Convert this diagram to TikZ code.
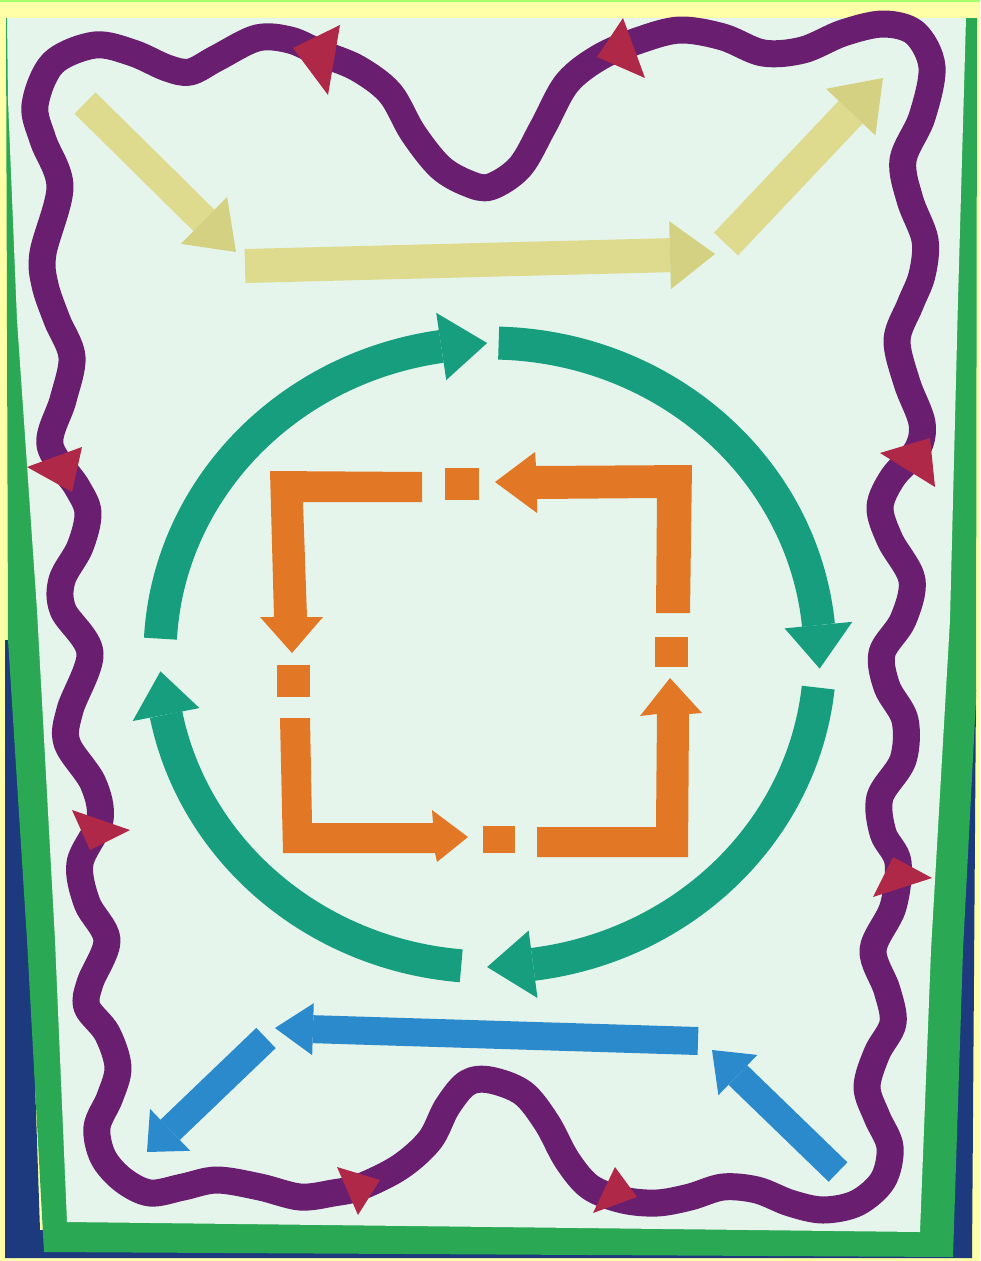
\documentclass[tikz,border=0pt]{standalone}
\usetikzlibrary{calc}
\definecolor{bgyellow}{RGB}{255,255,168}
\definecolor{navy}{RGB}{28,58,125}
\definecolor{framegreen}{RGB}{42,168,84}
\definecolor{paper}{RGB}{229,245,236}
\definecolor{purp}{RGB}{106,30,112}
\definecolor{redtri}{RGB}{176,40,72}
\definecolor{yshaft}{RGB}{222,218,142}
\definecolor{yhead}{RGB}{212,210,130}
\definecolor{tealc}{RGB}{22,158,126}
\definecolor{orng}{RGB}{226,120,38}
\definecolor{blu}{RGB}{42,138,204}
\tikzset{
  band/.style={draw=purp, line width=27pt, line join=round},
  tri/.style={fill=redtri},
  opiece/.style={fill=orng},
  garc/.style={draw=tealc, line width=33pt},
}
% straight arrow: shaft colour, head colour, start, tip, shaft width, head length, half head width
\newcommand{\flatarrow}[7]{%
  \coordinate (fab) at ($(#4)!#6!(#3)$);
  \draw[#1, line width=#5] (#3) -- (fab);
  \fill[#2] (#4) -- ($(fab)!#7!90:(#4)$) -- ($(fab)!#7!-90:(#4)$) -- cycle;
}
% arc arrow on the green ellipse: start angle, head-base angle, tip angle
\newcommand{\arcarrow}[3]{%
  \draw[garc] ($(gc)+(#1:330pt and 312pt)$) arc[start angle=#1, end angle=#2, x radius=330pt, y radius=312pt];
  \fill[tealc] ($(gc)+(#3:330pt and 312pt)$) -- ($(gc)+(#2:296pt and 278pt)$) -- ($(gc)+(#2:364pt and 346pt)$) -- cycle;
}
\begin{document}
\begin{tikzpicture}[x=1pt,y=-1pt]
\useasboundingbox (0,0) rectangle (980,1261);
% background
\fill[bgyellow] (0,0) rectangle (980,1261);
\fill[green!35!bgyellow] (0,0) rectangle (980,2);
% navy board behind
\fill[navy] (5,640) -- (5,1258) -- (972,1258) -- (976,690) -- (955,690) -- (935,1230) -- (40,1230) -- (20,640) -- cycle;
% green frame
\fill[framegreen] (6,18) -- (8,640) -- (27,940) -- (44,1252) -- (953,1257) -- (963,950) -- (976,700) -- (977,18) -- cycle;
% paper
\fill[paper] (7,18) -- (966,18) -- (958,300) -- (950,620) -- (931,950) -- (920,1232) -- (67,1222) -- (55,940) -- (37,610) -- (17,320) -- (8,100) -- cycle;

% purple wavy border
\draw[band] plot[smooth cycle, tension=0.55] coordinates {
 (35,105) (53,63) (95,45) (133,53) (167,68) (190,72) (217,58) (257,38) (290,40) (320,53) (357,68) (390,93) (413,133) (440,167) (467,183) (490,187)
 (520,167) (543,127) (567,83) (600,57) (640,40) (680,30) (723,37) (763,53) (803,50) (843,33) (883,24) (915,33) (932,67) (922,117) (903,160) (910,200) (925,240) (922,275) (910,305)
 (897,340) (907,383) (922,423) (917,450) (893,477) (880,507) (890,540) (912,580) (903,620) (882,653) (887,687) (905,720) (903,760) (880,797) (883,833) (898,862) (893,907) (873,950)
 (887,990) (893,1023) (877,1053) (867,1087) (877,1117) (890,1147) (883,1180) (857,1203) (823,1210) (790,1203) (757,1190) (723,1187) (690,1197) (657,1203) (623,1200) (590,1187)
 (567,1160) (547,1123) (523,1093) (490,1080) (467,1083) (447,1107) (430,1140) (400,1167) (360,1187) (333,1193) (300,1197) (260,1187) (217,1180) (183,1187) (150,1193) (123,1180)
 (103,1157) (97,1127) (110,1097) (118,1067) (107,1033) (87,1007) (90,983) (107,940) (87,903) (80,863) (100,820) (93,783) (67,743) (70,710) (90,653) (63,610) (62,580) (80,547)
 (88,513) (77,487) (50,445) (63,400) (72,357) (57,320) (45,285) (43,253) (60,187) (43,140)};

% red triangles
\fill[tri] (293,48) -- (340,25) -- (328,95) -- cycle;
\fill[tri] (597,57) -- (623,18) -- (645,78) -- cycle;
\fill[tri] (880,453) -- (930,438) -- (935,487) -- cycle;
\fill[tri] (873,897) -- (893,857) -- (932,878) -- cycle;
\fill[tri] (593,1213) -- (615,1167) -- (637,1197) -- cycle;
\fill[tri] (337,1167) -- (380,1180) -- (358,1215) -- cycle;
\fill[tri] (72,810) -- (130,830) -- (90,850) -- cycle;
\fill[tri] (27,467) -- (82,447) -- (72,492) -- cycle;

% yellow arrows
\coordinate (y1s) at (85,103);  \coordinate (y1t) at (236,252);
\coordinate (y2s) at (245,266); \coordinate (y2t) at (715,254);
\coordinate (y3s) at (726,244); \coordinate (y3t) at (883,78);
\flatarrow{yshaft}{yhead}{y1s}{y1t}{30pt}{45pt}{33pt}
\flatarrow{yshaft}{yhead}{y2s}{y2t}{34pt}{45pt}{34pt}
\flatarrow{yshaft}{yhead}{y3s}{y3t}{33pt}{47pt}{34pt}

% green cycle
\coordinate (gc) at (490,655);
\arcarrow{177}{98.5}{90.5}
\arcarrow{88.5}{5.5}{-2.5}
\arcarrow{-6}{-82.5}{-90.5}
\arcarrow{-95}{-169}{-177}

% orange square
\fill[opiece] (422,472) -- (270,471) -- (274,617) -- (260,617) -- (292,653) -- (323,617) -- (307,617) -- (303,502) -- (422,502) -- cycle;
\fill[opiece] (445,468) rectangle (479,500);
\fill[opiece] (495,482) -- (535,452) -- (536,466) -- (692,465) -- (690,613) -- (656,613) -- (657,498) -- (537,499) -- (537,513) -- cycle;
\fill[opiece] (655,637) rectangle (688,667);
\fill[opiece] (537,827) -- (656,827) -- (657,714) -- (640,716) -- (670,678) -- (702,713) -- (689,714) -- (688,857) -- (537,857) -- cycle;
\fill[opiece] (483,826) rectangle (515,853);
\fill[opiece] (280,718) -- (310,718) -- (312,823) -- (433,823) -- (432,810) -- (468,837) -- (437,862) -- (435,853) -- (283,853) -- cycle;
\fill[opiece] (277,665) rectangle (310,697);

% blue arrows
\coordinate (b1s) at (698,1041); \coordinate (b1t) at (275,1028);
\coordinate (b2s) at (266,1038); \coordinate (b2t) at (147,1152);
\coordinate (b3s) at (838,1172); \coordinate (b3t) at (712,1050);
\flatarrow{blu}{blu}{b1s}{b1t}{28pt}{38pt}{26pt}
\flatarrow{blu}{blu}{b2s}{b2t}{28pt}{32pt}{29pt}
\flatarrow{blu}{blu}{b3s}{b3t}{27pt}{36pt}{28pt}
\end{tikzpicture}
\end{document}
